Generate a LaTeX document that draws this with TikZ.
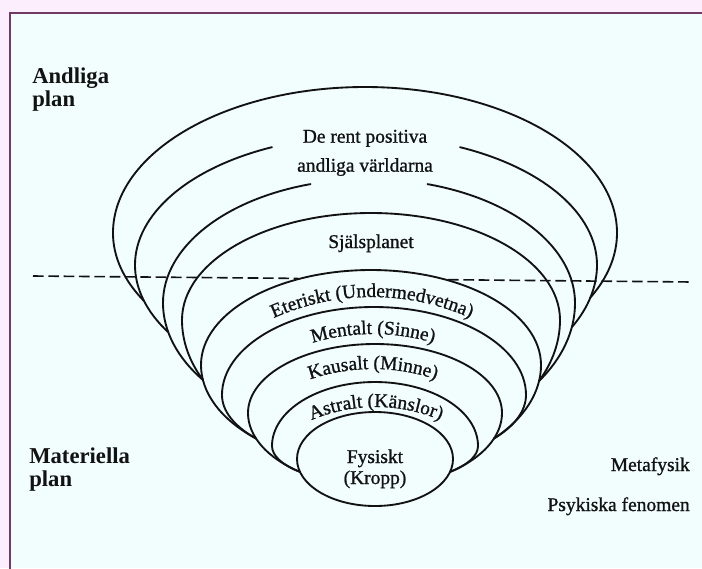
\documentclass[tikz,border=0pt]{standalone}
\usepackage{fontspec}
\setmainfont{Liberation Serif}
\newfontfamily\scanfont{Liberation Serif}[FakeBold=1.0]
\usetikzlibrary{decorations.text}
\definecolor{outerbg}{RGB}{252,238,252}
\definecolor{innerbg}{RGB}{242,253,253}
\definecolor{framec}{RGB}{112,58,102}
\definecolor{ink}{RGB}{18,18,18}
\newcommand{\lblfont}{\scanfont\fontsize{14.6}{17.5}\selectfont}
\newcommand{\hdfont}{\fontsize{17}{20}\selectfont\bfseries}
% cx, cy, a, b-upper, left end x, left end y, right end x, right end y, half gap angle
\newcommand{\funnel}[9]{%
  \pgfmathsetmacro\tLa{acos((#5-#1)/#3)}%
  \pgfmathsetmacro\bLa{(#6-#2)/sin(\tLa)}%
  \pgfmathsetmacro\tRa{acos((#7-#1)/#3)}%
  \pgfmathsetmacro\bRa{(#8-#2)/sin(\tRa)}%
  \pgfmathsetmacro\gA{270-#9}%
  \pgfmathsetmacro\gB{270+#9}%
  \draw[curve] (#5,#6) arc[start angle=\tLa, end angle=180, x radius=#3, y radius=\bLa]
     arc[start angle=180, end angle=\gA, x radius=#3, y radius=#4];
  \draw[curve] (#1,#2) ++(\gB:#3 and #4) arc[start angle=\gB, end angle=360, x radius=#3, y radius=#4]
     arc[start angle=0, end angle=\tRa, x radius=#3, y radius=\bRa];
}
% centre x, baseline peak y, radius, half angle, text
\newcommand{\arctext}[5]{%
  \path[decorate, decoration={text along path, text align=center, text color=ink,
     text={|\lblfont|#5}}]
     (#1,#2+#3) ++(270-#4:#3) arc[start angle=270-#4, end angle=270+#4, radius=#3];
}
\begin{document}
\begin{tikzpicture}[x=0.75pt, y=-0.75pt,
  curve/.style={draw=ink, line width=1.4pt, line cap=round},
  dashline/.style={draw=ink, line width=1.2pt, dash pattern=on 8pt off 3.5pt},
  lbl/.style={font=\lblfont, text=ink, inner sep=0pt},
  hd/.style={font=\hdfont, text=ink, inner sep=0pt}]
\path[use as bounding box] (0,0) rectangle (702,568);
\fill[outerbg] (0,0) rectangle (702,568);
\fill[innerbg] (10,13) rectangle (702,568);
\draw[framec, line width=1.5pt] (710,13) -- (10,13) -- (10,580);

% dashed border between planes
\coordinate (dA) at (33,276);
\coordinate (dB) at (298,278.4);
\coordinate (dC) at (448,279.7);
\coordinate (dD) at (692,282);
\draw[dashline] (dA) -- (dB);
\draw[dashline] (dC) -- (dD);

% nested funnel curves (outer to inner)
\funnel{365}{233}{252}{146}{144}{301}{590}{298}{0}
\funnel{366}{265}{231}{129}{168}{332}{572}{327}{24}
\funnel{369}{303}{206}{124}{203}{380}{539}{381}{16.5}
\funnel{371}{320}{189}{107}{203}{380}{539}{381}{0}
\funnel{371}{365}{170}{95}{256}{438.5}{494}{438.5}{0}
\funnel{374}{395}{152}{88}{256}{438.5}{494}{438.5}{0}
\funnel{375}{413}{127}{69}{300}{471.9}{450}{471.9}{0}
\funnel{375}{446}{103}{64}{300}{471.9}{450}{471.9}{0}
\draw[curve] (375,459) ellipse[x radius=78, y radius=47];

% curved labels
\arctext{372}{297}{240}{30}{Eteriskt (Undermedvetna)}
\arctext{373}{334}{210}{24}{Mentalt (Sinne)}
\arctext{373}{369}{195}{26}{Kausalt (Minne)}
\arctext{376}{407}{165}{30}{Astralt (Känslor)}

% straight labels
\node[hd, anchor=base west] (andl1) at (32,83.3) {Andliga};
\node[hd, anchor=base west] (andl2) at (32,106) {plan};
\node[hd, anchor=base west] (mat1) at (29,463.5) {Materiella};
\node[hd, anchor=base west] (mat2) at (29,486.5) {plan};
\node[lbl, anchor=base] (rent1) at (365,142.7) {De rent positiva};
\node[lbl, anchor=base] (rent2) at (365,171.7) {andliga världarna};
\node[lbl, anchor=base] (sjal) at (371,248) {Själsplanet};
\node[lbl, anchor=base] (fys1) at (375,463) {Fysiskt};
\node[lbl, anchor=base] (fys2) at (375,484) {(Kropp)};
\node[lbl, anchor=base east] (meta) at (690,471) {Metafysik};
\node[lbl, anchor=base east] (psyk) at (690,511) {Psykiska fenomen};
\end{tikzpicture}
\end{document}
